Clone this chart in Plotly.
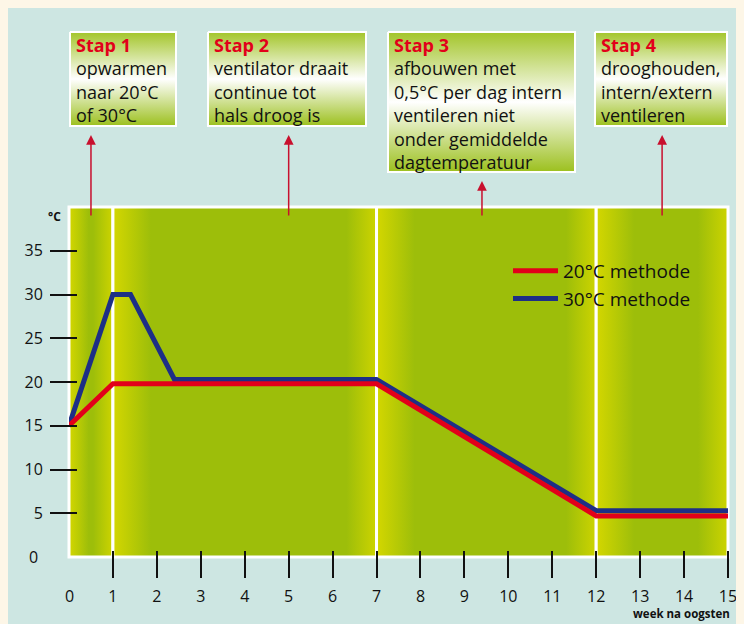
import plotly.graph_objects as go

# ---------------- data ----------------
weeks_red = [0, 1, 7, 12, 15]
temp_red = [15, 19.8, 19.8, 4.7, 4.7]
weeks_blue = [0, 1, 1.4, 2.4, 7, 12, 15]
temp_blue = [15, 30, 30, 20.3, 20.3, 5.3, 5.3]
series_names = ["20°C methode", "30°C methode"]

stage_bounds = [0, 1, 7, 12, 15]
stage_titles = ["Stap 1", "Stap 2", "Stap 3", "Stap 4"]
stage_texts = [
    ["opwarmen", "naar 20°C", "of 30°C"],
    ["ventilator draait", "continue tot", "hals droog is"],
    ["afbouwen met", "0,5°C per dag intern", "ventileren niet",
     "onder gemiddelde", "dagtemperatuur"],
    ["drooghouden,", "intern/extern", "ventileren"],
]
arrow_weeks = [0.5, 5, 9.4, 13.5]
x_ticks = list(range(1, 16))
y_ticks = [5, 10, 15, 20, 25, 30, 35]

# ---------------- layout constants (window pixels; page body offsets the figure by 8px) ----------------
OFF = 8
W, H = 744 - OFF, 624 - OFF
L, R, T, B = 69, 728, 8, 557          # plot area in window pixels
PW, PH = R - L, B - T
PLOT_TOP = 207
UPPER_BOTTOM = 200


def px(xw):
    return (xw - L) / PW


def py(yw):
    return (B - yw) / PH


TEAL = "#cde6e2"
CREAM = "#fdf6e7"
YEL = "#d4d700"
GRN = "#9dbe0a"
RED = "#e2001a"
BLUE = "#1d2f86"
ARROW = "#c8102e"
FONT = "Open Sans"
INK = "#111111"
XPX = PW / (stage_bounds[-1] - stage_bounds[0])
BOX_FONT = 18

fig = go.Figure()

# background bands (one per stage)
for i in range(len(stage_bounds) - 1):
    x0, x1 = stage_bounds[i], stage_bounds[i + 1]
    wpx = (x1 - x0) * XPX
    fl = min(0.45, 38 / wpx)
    fr = min(0.45, 30 / wpx)
    fig.add_trace(go.Scatter(
        x=[x0, x1, x1, x0, x0], y=[0, 0, 40, 40, 0],
        mode="lines", fill="toself",
        line=dict(color="white", width=3),
        fillgradient=dict(type="horizontal", start=x0, stop=x1,
                          colorscale=[[0, YEL], [fl, GRN], [1 - fr, GRN], [1, "#cdd400"]]),
        showlegend=False, hoverinfo="skip",
    ))

# series lines
fig.add_trace(go.Scatter(x=weeks_blue, y=temp_blue, mode="lines", name=series_names[1],
                         line=dict(color=BLUE, width=5), legendrank=2, legendgroup="b"))
fig.add_trace(go.Scatter(x=weeks_red, y=temp_red, mode="lines", name=series_names[0],
                         line=dict(color=RED, width=5), legendrank=1, legendgroup="a"))

# boxes in upper subplot (window pixel coordinates)
boxes = [(70, 176, 32, 126), (208, 366, 32, 126), (388, 575, 32, 172), (595, 727, 32, 126)]
for (bl, br, bt, bb), title, lines in zip(boxes, stage_titles, stage_texts):
    fig.add_trace(go.Scatter(
        x=[bl, br, br, bl, bl], y=[bt, bt, bb, bb, bt], xaxis="x2", yaxis="y2",
        mode="lines", fill="toself", line=dict(color="white", width=2),
        fillgradient=dict(type="vertical", start=bt, stop=bb,
                          colorscale=[[0, "#a3c52a"], [0.5, "#ffffff"], [1, "#9cc01e"]]),
        showlegend=False, hoverinfo="skip",
    ))
    txt = f"<span style='color:{RED}'><b>{title}</b></span><br>" + "<br>".join(lines)
    fig.add_annotation(x=bl + 5, y=bt, xref="x2", yref="y2", xanchor="left", yanchor="top",
                       align="left", showarrow=False, text=txt, borderpad=0,
                       font=dict(family=FONT, size=BOX_FONT, color=INK))

# arrows
arrow_heads = [135, 135, 181, 135]
for wk, hy in zip(arrow_weeks, arrow_heads):
    fig.add_annotation(x=wk, y=py(hy), xref="x", yref="paper", ax=0, ay=217 - hy,
                       axref="pixel", ayref="pixel", text="", showarrow=True,
                       arrowhead=2, arrowsize=1.3, arrowwidth=1.5, arrowcolor=ARROW, standoff=0)

# zero labels, axis titles
fig.add_annotation(x=0, y=py(596), xref="x", yref="paper", text="0", showarrow=False,
                   xanchor="center", yanchor="middle", font=dict(family=FONT, size=16, color=INK))
fig.add_annotation(x=px(33), y=0, xref="paper", yref="y", text="0", showarrow=False,
                   xanchor="center", yanchor="middle", font=dict(family=FONT, size=16, color=INK))
fig.add_annotation(x=px(54), y=py(216), xref="paper", yref="paper", text="<b>°C</b>",
                   xanchor="center", yanchor="middle",
                   showarrow=False, font=dict(family=FONT, size=12, color=INK))
fig.add_annotation(x=px(732), y=py(613), xref="paper", yref="paper", xanchor="right",
                   yanchor="middle", text="<b>week na oogsten</b>", showarrow=False,
                   font=dict(family=FONT, size=11.5, color=INK))

fig.update_layout(
    width=W, height=H,
    margin=dict(l=L - OFF, r=W - (R - OFF), t=T - OFF, b=H - (B - OFF)),
    paper_bgcolor=TEAL, plot_bgcolor="rgba(0,0,0,0)",
    font=dict(family=FONT, size=16, color=INK),
    showlegend=True,
    legend=dict(x=px(508), y=py(252), xanchor="left", yanchor="top",
                traceorder="grouped", tracegroupgap=0, itemwidth=45,
                bgcolor="rgba(0,0,0,0)", font=dict(family=FONT, size=19, color=INK)),
    xaxis=dict(range=[stage_bounds[0], stage_bounds[-1]], domain=[0, 1], anchor="free",
               position=py(550), tickvals=x_ticks, ticks="outside", ticklen=27, tickwidth=2,
               tickcolor=INK, showline=False, showgrid=False, zeroline=False,
               tickfont=dict(family=FONT, size=16, color=INK), ticklabelstandoff=5),
    yaxis=dict(range=[0, 40], domain=[0, py(PLOT_TOP)], anchor="free", position=px(77),
               tickvals=y_ticks, ticks="outside", ticklen=27, tickwidth=2, tickcolor=INK,
               showline=False, showgrid=False, zeroline=False,
               tickfont=dict(family=FONT, size=16, color=INK), ticklabelstandoff=4),
    xaxis2=dict(range=[L, R], domain=[0, 1], anchor="y2", visible=False),
    yaxis2=dict(range=[UPPER_BOTTOM, T], domain=[py(UPPER_BOTTOM), 1], anchor="x2", visible=False),
    shapes=[
        dict(type="rect", xref="paper", yref="paper", x0=0, x1=1, y0=0, y1=py(PLOT_TOP),
             fillcolor="rgba(0,0,0,0)", line=dict(color="white", width=3), layer="below"),
    ],
)

fig.write_html("out.html", post_script=f"document.body.style.background='{CREAM}';")
